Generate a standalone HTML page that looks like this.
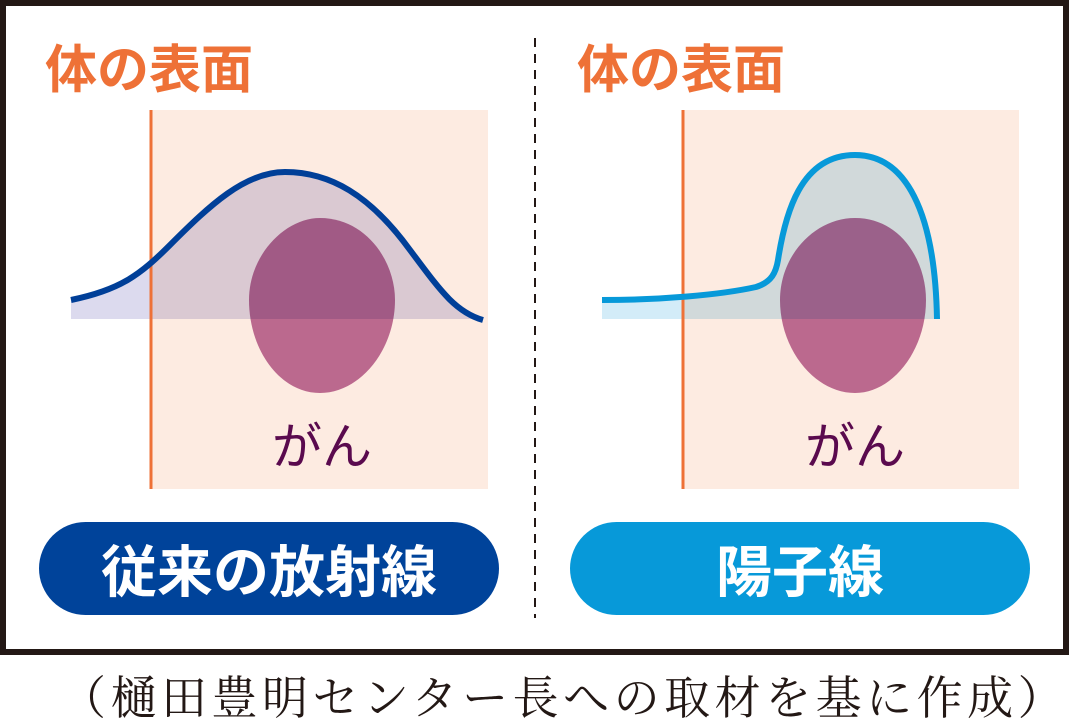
<!DOCTYPE html>
<html><head><meta charset="utf-8"><style>
html,body{margin:0;padding:0;background:#fff;}
body{width:1069px;height:724px;position:relative;overflow:hidden;font-family:"Liberation Sans","Noto Sans CJK JP",sans-serif;}
.frame{position:absolute;left:0;top:0;width:1057px;height:643px;border:6px solid #231815;}
.btn{position:absolute;top:522px;height:93px;border-radius:47px;color:#fff;font-weight:bold;font-size:56px;display:flex;align-items:center;justify-content:center;letter-spacing:0px;}
.cap{position:absolute;left:60px;top:662px;font-family:"Liberation Serif","Noto Serif CJK SC",serif;font-size:46px;color:#231815;letter-spacing:4.5px;white-space:nowrap;}
</style></head><body>
<div class="frame"></div>
<svg width="1069" height="724" style="position:absolute;left:0;top:0">
<line x1="535" y1="38" x2="535" y2="618" stroke="#231815" stroke-width="2" stroke-dasharray="9,7"/>
<rect x="150" y="110" width="338" height="379" fill="#fdebe1"/>
<path d="M71,300 C120,290 140,275 170,245 C210,205 245,172 285,172 C330,172 370,195 410,250 C440,290 455,312 483,320 L483,319 L71,319 Z" fill="#dcdaee" style="mix-blend-mode:multiply"/>
<path d="M320,218 C365,218 395,260 395,300 C395,350 360,393 320,393 C280,393 249,350 249,300 C249,255 285,218 320,218 Z" fill="#bd72a1" style="mix-blend-mode:multiply"/>
<line x1="151" y1="110" x2="151" y2="489" stroke="#ee7137" stroke-width="3"/>
<path d="M71,300 C120,290 140,275 170,245 C210,205 245,172 285,172 C330,172 370,195 410,250 C440,290 455,312 483,320" fill="none" stroke="#003f98" stroke-width="6"/>
<rect x="682" y="110" width="337" height="379" fill="#fdebe1"/>
<path d="M602,300 C660,300 720,295 756,287 C772,282 776,272 778,260 C785,215 800,155 855,155 C905,155 935,210 937,317 L937,319 L602,319 Z" fill="#d3ecf8" style="mix-blend-mode:multiply"/>
<path d="M855,218 C900,218 926,260 926,300 C926,350 893,393 855,393 C815,393 780,350 780,300 C780,255 815,218 855,218 Z" fill="#bd72a1" style="mix-blend-mode:multiply"/>
<line x1="683" y1="110" x2="683" y2="489" stroke="#ee7137" stroke-width="3"/>
<path d="M602,300 C660,300 720,295 756,287 C772,282 776,272 778,260 C785,215 800,155 855,155 C905,155 935,210 937,319" fill="none" stroke="#0799d9" stroke-width="6"/>
<text x="45" y="88" font-size="52" font-weight="bold" fill="#ee7137" font-family="Liberation Sans,Noto Sans CJK JP,sans-serif">体の表面</text>
<text x="577" y="88" font-size="52" font-weight="bold" fill="#ee7137" font-family="Liberation Sans,Noto Sans CJK JP,sans-serif">体の表面</text>
<text x="272" y="464" font-size="50" fill="#5a0a4e" font-family="Liberation Sans,Noto Sans CJK JP,sans-serif">がん</text>
<text x="805" y="464" font-size="50" fill="#5a0a4e" font-family="Liberation Sans,Noto Sans CJK JP,sans-serif">がん</text>
</svg>
<div class="btn" style="left:39px;width:460px;background:#00439a;">従来の放射線</div>
<div class="btn" style="left:570px;width:460px;background:#0799d9;">陽子線</div>
<div class="cap">（樋田豊明センター長への取材を基に作成）</div>
</body></html>
